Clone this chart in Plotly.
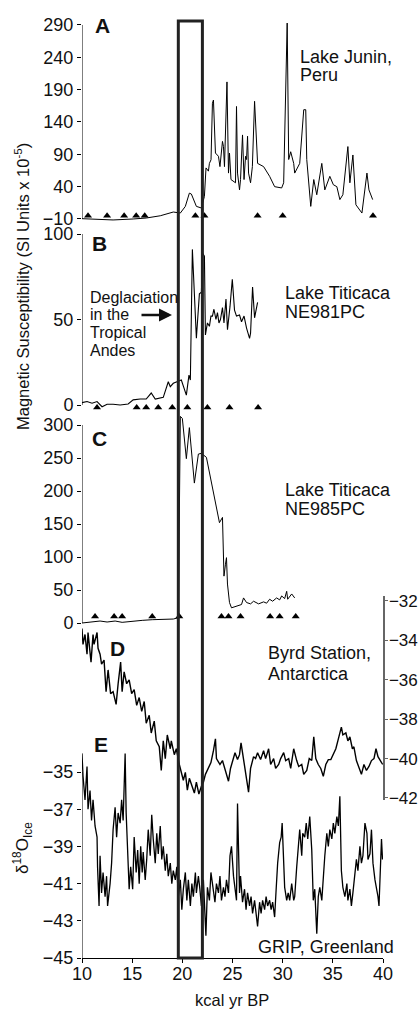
import plotly.graph_objects as go

# ---------------- data ----------------
A_AGE = [10.0, 11.5, 13.1, 15.1, 16.4, 17.8, 19.1, 19.8, 20.3, 20.7,
         20.9, 21.4, 21.9, 22.2, 22.36, 22.6, 22.7, 22.86, 23.0, 23.1,
         23.3, 23.6, 23.75, 24.0, 24.1, 24.2, 24.45, 24.6, 24.7, 24.85,
         25.1, 25.3, 25.4, 25.5, 25.7, 25.8, 26.0, 26.15, 26.3, 26.4,
         26.5, 26.6, 26.8, 26.98, 27.2, 27.5, 28.1, 28.7, 29.2, 29.9,
         30.1, 30.45, 30.6, 30.8, 31.1, 31.2, 31.7, 32.1, 32.3, 32.4,
         32.8, 33.1, 33.4, 33.9, 34.2, 34.7, 35.05, 35.4, 35.7, 36.0,
         36.5, 36.7, 37.0, 37.3, 37.9, 38.4, 38.6, 38.97]
A_VAL = [-9.5, -11, -11.5, -10, -8.5, -5, 0.8, -0.8, 9.5, 30,
         28.6, 9.5, 7, 25, 69, 64, 76, 81.6, 169, 174,
         92, 87, 71, 110, 102, 71, 202, 61, 92, 51,
         48, 46, 164, 61, 35, 51, 120, 51, 87, 82,
         118, 61, 46, 71, 172, 76, 71, 56, 40, 38,
         46, 293, 82, 94, 76, 61, 76, 159, 159, 82,
         9.5, 51, 27.5, 76, 35, 56, 43, 40, 20, 27.5,
         102, 46, 89, 12, -0.8, 61, 35, 20]
A_TRI = [10.6, 12.5, 14.2, 15.4, 16.25, 21.3, 22.2, 27.5, 30.0, 39.0]

B_AGE = [10.0, 10.5, 11.0, 11.5, 12.0, 12.5, 13.1, 13.8, 14.6, 15.1,
         15.8, 16.4, 16.9, 17.3, 18.1, 18.35, 18.6, 18.8, 19.1, 19.9,
         20.3, 20.4, 20.66, 20.8, 21.0, 21.4, 21.7, 21.9, 22.0, 22.2,
         22.3, 22.5, 22.7, 22.85, 23.0, 23.15, 23.35, 23.5, 23.65, 23.8,
         24.0, 24.15, 24.35, 24.5, 24.75, 24.98, 25.2, 25.4, 25.7, 25.9,
         26.15, 26.4, 26.7, 26.8, 27.0, 27.2, 27.5]
B_VAL = [1.4, 2, 1, 2, -1, 0.4, 0.4, 0, 0.6, 3,
         3.5, 3.5, 7, 3.5, 4.5, 9, 13.6, 10.7, 12.7, 14.6,
         7.8, 5.8, 17.5, 14.6, 91, 39, 65, 66, 89, 87,
         41, 48, 46, 52, 52, 56, 50, 54, 48, 50,
         57, 48, 62, 44, 57.5, 73.5, 55.5, 52, 52.6, 48.7,
         52, 45, 39, 42, 69, 51, 60]
B_TRI = [11.5, 15.45, 16.4, 17.6, 19.0, 20.5, 22.5, 24.7, 27.55]

C_AGE = [10.0, 11.0, 11.8, 12.5, 13.3, 14.0, 15.0, 16.0, 17.0, 18.0,
         19.1, 19.6, 19.8, 20.0, 20.4, 20.7, 21.2, 21.6, 21.9, 22.4,
         22.9, 23.7, 24.0, 24.15, 24.3, 24.4, 24.5, 24.7, 24.9, 25.4,
         25.9, 26.1, 26.4, 26.8, 27.1, 27.6, 28.1, 28.4, 28.7, 29.0,
         29.4, 29.7, 29.9, 30.2, 30.4, 30.5, 30.7, 30.9, 31.2]
C_VAL = [0, 2, 3, 1.5, 3, 1, 3, 4, 5, 5,
         6, 8, 313, 310, 249, 296, 212, 256, 257, 251,
         213, 152, 160, 71, 89, 99, 59, 31, 23, 26,
         28, 38, 31, 29, 33, 29, 32, 30, 36, 33,
         38, 35, 41, 37, 48, 36, 41, 44, 38]
C_TRI = [11.3, 13.2, 14.0, 17.0, 19.7, 23.9, 24.6, 25.8, 28.75, 29.7, 31.3]

D_AGE = [10.0, 10.1, 10.3, 10.5, 10.6, 10.9, 11.1, 11.2, 11.5, 11.6,
         11.8, 11.95, 12.2, 12.4, 12.6, 12.85, 13.1, 13.4, 13.6, 13.85,
         14.0, 14.2, 14.45, 14.7, 14.95, 15.2, 15.45, 15.7, 15.95, 16.2,
         16.4, 16.7, 16.9, 17.2, 17.4, 17.7, 17.9, 18.1, 18.3, 18.5,
         18.8, 18.9, 19.2, 19.4, 19.7, 19.9, 20.1, 20.3, 20.5, 20.7,
         20.9, 21.2, 21.4, 21.65, 21.9, 22.1, 22.3, 22.6, 22.85, 23.1,
         23.3, 23.4, 23.75, 24.0, 24.25, 24.6, 24.8, 25.1, 25.25, 25.5,
         25.7, 25.85, 26.1, 26.3, 26.6, 26.8, 27.1, 27.3, 27.5, 27.8,
         28.1, 28.3, 28.6, 28.8, 29.1, 29.3, 29.6, 29.8, 30.1, 30.3,
         30.6, 30.8, 31.1, 31.4, 31.6, 31.9, 32.1, 32.4, 32.65, 32.9,
         33.1, 33.3, 33.55, 33.8, 34.05, 34.3, 34.55, 34.8, 35.05, 35.3,
         35.5, 35.7, 35.85, 36.0, 36.3, 36.5, 36.7, 36.95, 37.1, 37.35,
         37.6, 37.85, 38.1, 38.35, 38.6, 38.85, 39.1, 39.3, 39.5, 39.75,
         39.97]
D_VAL = [-33.4, -34.2, -33.7, -34.7, -33.6, -35.1, -33.7, -34.2, -33.6, -34.4,
         -34.7, -35.2, -35.0, -36.6, -35.5, -36.7, -36.6, -37.25, -36.2, -35.1,
         -36.6, -35.6, -36.2, -36.0, -36.7, -36.5, -37.3, -36.9, -37.6, -37.1,
         -38.2, -37.8, -38.7, -38.1, -39.1, -39.4, -40.6, -39.1, -40.0, -38.8,
         -39.5, -39.1, -39.8, -39.5, -40.3, -40.7, -41.1, -40.7, -41.6, -41.0,
         -41.3, -41.75, -41.2, -41.8, -41.4, -41.2, -40.8, -40.5, -40.2, -39.6,
         -39.0, -40.0, -40.3, -40.1, -40.6, -41.15, -40.5, -40.0, -39.7, -40.05,
         -39.8, -39.2, -40.1, -40.8, -41.7, -40.5, -39.9, -40.0, -39.7, -40.05,
         -39.6, -40.0, -39.5, -40.3, -40.0, -40.5, -40.3, -40.0, -39.7, -40.1,
         -40.0, -40.5, -39.5, -40.1, -40.4, -40.3, -40.8, -40.6, -40.0, -40.1,
         -38.9, -40.0, -40.3, -40.5, -40.9, -40.3, -40.05, -40.05, -39.8, -39.5,
         -39.1, -38.7, -38.4, -38.8, -38.7, -39.1, -38.9, -39.5, -39.4, -40.1,
         -40.5, -40.8, -40.3, -40.6, -40.4, -40.1, -40.0, -39.5, -39.9, -40.1,
         -40.3]

E_AGE = [10.0, 10.1, 10.3, 10.5, 10.6, 10.8, 10.95, 11.1, 11.3, 11.5,
         11.55, 11.7, 11.8, 11.95, 12.1, 12.3, 12.45, 12.55, 12.8, 12.95,
         13.1, 13.3, 13.45, 13.6, 13.8, 13.95, 14.1, 14.3, 14.4, 14.55,
         14.7, 14.85, 15.05, 15.2, 15.4, 15.55, 15.7, 15.85, 16.0, 16.1,
         16.3, 16.45, 16.6, 16.8, 16.95, 17.1, 17.3, 17.45, 17.6, 17.8,
         17.95, 18.1, 18.3, 18.45, 18.6, 18.8, 18.95, 19.1, 19.3, 19.45,
         19.6, 19.8, 19.95, 20.1, 20.3, 20.45, 20.6, 20.8, 20.95, 21.1,
         21.3, 21.4, 21.6, 21.75, 21.9, 22.1, 22.25, 22.35, 22.5, 22.7,
         22.85, 23.1, 23.25, 23.4, 23.6, 23.75, 23.9, 24.1, 24.25, 24.4,
         24.6, 24.75, 24.9, 25.1, 25.25, 25.4, 25.5, 25.7, 25.8, 26.0,
         26.2, 26.35, 26.5, 26.7, 26.85, 27.0, 27.2, 27.35, 27.5, 27.7,
         27.85, 28.0, 28.2, 28.35, 28.5, 28.7, 28.85, 29.0, 29.2, 29.35,
         29.5, 29.7, 29.85, 29.95, 30.1, 30.2, 30.4, 30.55, 30.7, 30.9,
         31.1, 31.2, 31.4, 31.55, 31.7, 31.9, 32.0, 32.2, 32.35, 32.5,
         32.7, 32.9, 33.05, 33.2, 33.4, 33.55, 33.7, 33.9, 34.05, 34.2,
         34.4, 34.55, 34.7, 34.9, 35.05, 35.2, 35.4, 35.55, 35.7, 35.85,
         36.0, 36.2, 36.4, 36.5, 36.7, 36.85, 37.0, 37.2, 37.35, 37.5,
         37.7, 37.85, 38.0, 38.2, 38.4, 38.5, 38.7, 38.85, 39.0, 39.2,
         39.35, 39.5, 39.6, 39.75, 39.85, 39.95]
E_VAL = [-34.0, -35.2, -36.5, -34.7, -37.0, -36.0, -37.6, -36.5, -37.9, -38.5,
         -40.1, -42.2, -39.5, -41.5, -40.4, -41.7, -40.6, -42.2, -41.0, -39.9,
         -38.1, -36.9, -38.5, -37.2, -37.75, -36.5, -37.6, -34.0, -37.2, -39.0,
         -41.3, -40.1, -41.3, -38.5, -40.4, -39.2, -41.0, -39.0, -40.4, -39.3,
         -40.8, -39.7, -38.1, -39.5, -37.3, -38.6, -39.9, -38.3, -39.4, -37.9,
         -39.7, -39.0, -40.3, -39.4, -40.6, -39.9, -41.0, -40.3, -40.8, -40.1,
         -41.7, -40.8, -42.4, -41.3, -40.4, -41.9, -40.8, -42.2, -41.0, -41.7,
         -40.4, -41.5, -40.6, -41.3, -42.2, -40.8, -43.1, -43.8, -41.2, -41.9,
         -40.4, -41.3, -42.0, -41.0, -41.5, -40.6, -41.9, -41.2, -41.7, -40.8,
         -41.5, -39.5, -39.0, -40.6, -41.2, -41.9, -36.7, -41.5, -40.6, -42.0,
         -41.3, -42.4, -41.5, -42.2, -41.7, -42.6, -41.9, -42.8, -43.3, -42.0,
         -42.6, -41.9, -42.4, -41.7, -42.2, -41.9, -42.4, -42.0, -42.8, -41.3,
         -39.9, -38.8, -38.5, -37.75, -40.1, -41.2, -41.9, -41.5, -41.9, -41.0,
         -41.9, -41.7, -40.1, -39.2, -38.1, -39.5, -38.3, -38.5, -37.75, -38.6,
         -37.4, -39.2, -41.9, -41.3, -43.7, -41.7, -41.2, -41.9, -40.6, -39.5,
         -38.3, -39.0, -38.1, -38.6, -37.75, -38.3, -37.4, -37.9, -36.3, -40.3,
         -41.2, -41.7, -41.0, -41.9, -41.3, -42.2, -41.5, -40.4, -39.7, -40.3,
         -39.0, -39.9, -39.5, -37.75, -38.3, -39.7, -39.4, -38.1, -39.9, -40.8,
         -41.2, -41.7, -42.2, -39.9, -38.6, -39.7]

X_TICKS = [10, 15, 20, 25, 30, 35, 40]
A_TICKS = [-10, 40, 90, 140, 190, 240, 290]
B_TICKS = [0, 50, 100]
C_TICKS = [0, 50, 100, 150, 200, 250, 300]
D_TICKS = [-32, -34, -36, -38, -40, -42]
E_TICKS = [-35, -37, -39, -41, -43, -45]
WINDOW = [19.6, 22.0]   # deglaciation window (kyr)

# ---------------- layout helpers ----------------
W, H = 419, 1009
FONT = "Liberation Sans, Arial, sans-serif"
INK = "#111111"


def px(x):
    return x / W


def py(y):
    return 1 - y / H


def ydom(v_a, p_a, v_b, p_b, lo, hi):
    s = (p_b - p_a) / (v_b - v_a)
    p_lo = p_a + (lo - v_a) * s
    p_hi = p_a + (hi - v_a) * s
    return [py(p_lo), py(p_hi)]


fig = go.Figure()

fig.add_trace(go.Scatter(x=A_AGE, y=A_VAL, mode="lines", line=dict(color="black", width=1), yaxis="y"))
fig.add_trace(go.Scatter(x=A_TRI, y=[-5] * len(A_TRI), mode="markers", cliponaxis=False,
                         marker=dict(symbol="triangle-up", size=7, color="black"), yaxis="y"))
fig.add_trace(go.Scatter(x=B_AGE, y=B_VAL, mode="lines", line=dict(color="black", width=1.1), yaxis="y2"))
fig.add_trace(go.Scatter(x=B_TRI, y=[-1.5] * len(B_TRI), mode="markers", cliponaxis=False,
                         marker=dict(symbol="triangle-up", size=7, color="black"), yaxis="y2"))
fig.add_trace(go.Scatter(x=C_AGE, y=C_VAL, mode="lines", line=dict(color="black", width=1), yaxis="y3"))
fig.add_trace(go.Scatter(x=C_TRI, y=[10] * len(C_TRI), mode="markers", cliponaxis=False,
                         marker=dict(symbol="triangle-up", size=7, color="black"), yaxis="y3"))
fig.add_trace(go.Scatter(x=D_AGE, y=D_VAL, mode="lines", line=dict(color="black", width=1.4), yaxis="y4"))
fig.add_trace(go.Scatter(x=E_AGE, y=E_VAL, mode="lines", line=dict(color="black", width=1.3), yaxis="y5"))

tick_font = dict(family=FONT, size=18, color=INK)
common_y = dict(showgrid=False, zeroline=False, showline=False, ticks="outside", ticklen=4,
                tickwidth=1, tickcolor="black", tickfont=tick_font, anchor="x", fixedrange=True,
                automargin=False)

fig.update_layout(
    template="none",
    width=W, height=H, autosize=False,
    margin=dict(l=0, r=0, t=0, b=0, pad=0),
    paper_bgcolor="white", plot_bgcolor="rgba(0,0,0,0)",
    showlegend=False,
    font=dict(family=FONT, color=INK),
    xaxis=dict(domain=[px(82), px(383)], range=[10, 40], tickvals=X_TICKS, showgrid=False,
               zeroline=False, showline=True, linecolor="black", linewidth=1, ticks="outside",
               ticklen=4, tickcolor="black", tickfont=tick_font, anchor="y5", fixedrange=True,
               automargin=False, ticklabelstandoff=-5),
    yaxis=dict(domain=ydom(290, 25, -10, 219, -14, 298), range=[-14, 298], tickvals=A_TICKS, **common_y),
    yaxis2=dict(domain=ydom(100, 234, 0, 405, -3, 100), range=[-3, 100], tickvals=B_TICKS, **common_y),
    yaxis3=dict(domain=ydom(300, 425, 0, 623, -3, 318), range=[-3, 318], tickvals=C_TICKS, **common_y),
    yaxis4=dict(domain=ydom(-32, 601, -42, 798, -42.1, -31.75), range=[-42.1, -31.75], tickvals=D_TICKS,
                side="right", showgrid=False, zeroline=False, showline=True, linecolor="#666666",
                linewidth=1.5, ticks="outside", ticklen=3, tickcolor="#666666",
                tickfont=dict(family=FONT, size=17, color=INK),
                anchor="x", fixedrange=True, automargin=False, ticklabelstandoff=-2),
    yaxis5=dict(domain=ydom(-35, 772, -45, 958, -45, -33.7), range=[-45, -33.7], tickvals=E_TICKS, **common_y),
)

# left axis lines (span only the labelled range)
for ref, lo, hi in [("y", -10, 290), ("y2", 0, 100), ("y3", 0, 300), ("y5", -45, -35)]:
    fig.add_shape(type="line", xref="x", yref=ref, x0=10, x1=10, y0=lo, y1=hi,
                  line=dict(color="black", width=1))

# deglaciation window box
fig.add_shape(type="rect", xref="x", yref="paper", x0=WINDOW[0], x1=WINDOW[1],
              y0=py(958), y1=py(21), line=dict(color="#222222", width=3), layer="above")


def label(text, x, y, size=18, bold=False, xanchor="left", angle=0):
    if bold:
        text = "<b>" + text + "</b>"
    fig.add_annotation(text=text, x=px(x), y=py(y), xref="paper", yref="paper",
                       xanchor=xanchor, yanchor="middle", showarrow=False, textangle=angle,
                       font=dict(family=FONT, size=size, color=INK))


label("A", 93, 26, 21, True)
label("B", 90, 243, 21, True)
label("C", 90, 438, 21, True)
label("D", 108, 648, 21, True)
label("E", 92, 744, 21, True)

label("Lake Junin,", 298, 57)
label("Peru", 298, 75)
label("Lake Titicaca", 283, 293)
label("NE981PC", 283, 312)
label("Lake Titicaca", 283, 490)
label("NE985PC", 283, 509)
label("Byrd Station,", 266, 653)
label("Antarctica", 266, 674)
label("GRIP, Greenland", 396, 947, xanchor="right")

for i, t in enumerate(["Deglaciation", "in the", "Tropical", "Andes"]):
    label(t, 88, 297 + i * 17.7, 16)

fig.add_annotation(x=px(172), y=py(315), xref="paper", yref="paper", ax=-32, ay=0,
                   showarrow=True, arrowhead=2, arrowsize=1, arrowwidth=2.6, arrowcolor="#111111", text="")

label("Magnetic Susceptibility (SI Units x 10<sup>-5</sup>)", 22, 287, 16.5, xanchor="center", angle=-90)
label("δ<sup>18</sup>O<sub>Ice</sub>", 22, 848, 17, xanchor="center", angle=-90)
label("kcal yr BP", 232, 1000, 16.5, xanchor="center")

fig.write_html("out.html", config={"displayModeBar": False, "staticPlot": True},
               post_script="document.body.style.margin='0';document.body.style.overflow='hidden';")
